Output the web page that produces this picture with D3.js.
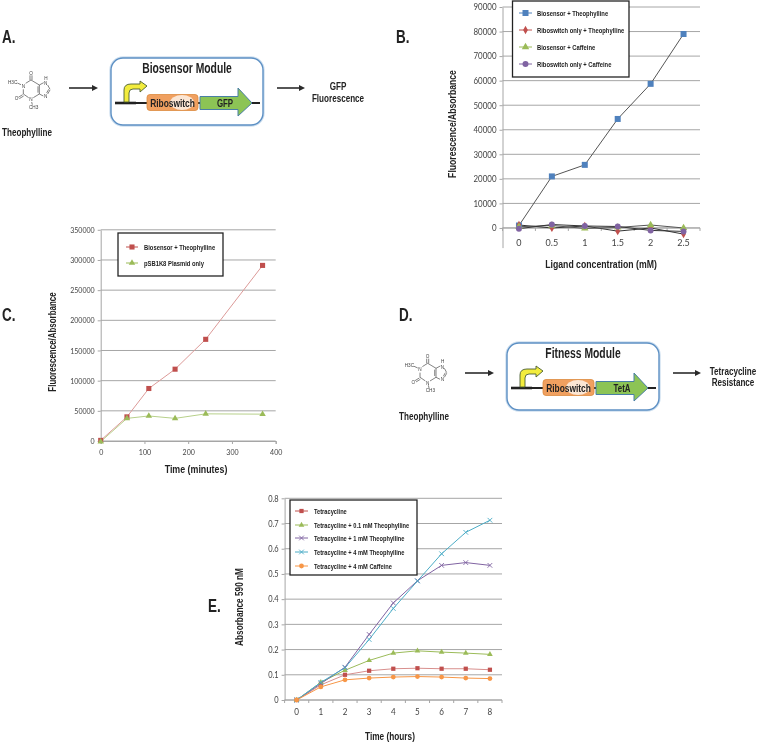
<!DOCTYPE html>
<html>
<head>
<meta charset="utf-8">
<script src="https://cdn.jsdelivr.net/npm/d3@7"></script>
<style>
html, body { margin: 0; padding: 0; background: #fff; }
svg { display: block; }
.narrow { font-family: "Liberation Sans", sans-serif; font-weight: bold; fill: #222; }
.tick text { font-family: Lato, "Open Sans", sans-serif; fill: #444; }
</style>
</head>
<body>
<div id="chart"></div>
<script>
// panel B
const ligand = ["0", "0.5", "1", "1.5", "2", "2.5"]
const bBiosensorTheo = [1000, 21000, 25700, 44400, 58700, 79000]
const bRiboTheo = [1200, 0, 800, -1300, 0, -2500]
const bBiosensorCaf = [500, 1000, -200, 200, 1200, 0]
const bRiboCaf = [-300, 1400, 800, 600, -1000, -1400]
const bTicks = [0, 10000, 20000, 30000, 40000, 50000, 60000, 70000, 80000, 90000]

// panel C
const minutes = [0, 60, 110, 170, 240, 370]
const cBiosensorTheo = [1000, 40000, 87000, 119000, 168500, 291000]
const cPlasmid = [-1000, 37500, 41500, 37500, 45000, 44500]
const cTicks = [0, 50000, 100000, 150000, 200000, 250000, 300000, 350000]
const cTimeTicks = [0, 100, 200, 300, 400]

// panel E
const hours = ["0", "1", "2", "3", "4", "5", "6", "7", "8"]
const eTet = [0, 0.06, 0.1, 0.116, 0.124, 0.126, 0.124, 0.124, 0.12]
const eTheo01 = [0, 0.07, 0.118, 0.157, 0.186, 0.195, 0.19, 0.186, 0.181]
const eTheo1 = [0, 0.065, 0.13, 0.26, 0.385, 0.473, 0.534, 0.545, 0.534]
const eTheo4 = [0, 0.07, 0.128, 0.24, 0.363, 0.472, 0.58, 0.665, 0.713]
const eCaf = [0, 0.052, 0.08, 0.087, 0.091, 0.093, 0.091, 0.087, 0.085]
const eTicks = [0, 0.1, 0.2, 0.3, 0.4, 0.5, 0.6, 0.7, 0.8]

const blue = "#4f81bd", red = "#c0504d", green = "#9bbb59", purple = "#8064a2", cyan = "#4bacc6", orange = "#f79646"

const root = d3.select("#chart").append("svg").attr("width", 759).attr("height", 744)
root.append("rect").attr("width", 759).attr("height", 744).attr("fill", "#fff")
// the source figure is a soft scan
root.append("filter").attr("id", "soft").append("feGaussianBlur").attr("stdDeviation", 0.3)
const svg = root.append("g").attr("filter", "url(#soft)")

// no condensed face is installed, so squeeze the glyphs
const squeeze = 0.75

function condense(sel, factor) {
    sel.each(function () {
        const len = this.getComputedTextLength()
        d3.select(this).attr("textLength", len * factor).attr("lengthAdjust", "spacingAndGlyphs")
    })
    return sel
}

function label(g, str, x, y, size, anchor) {
    return g.append("text").attr("class", "narrow")
        .attr("transform", `translate(${x},${y}) scale(${squeeze},1)`)
        .attr("font-size", size)
        .attr("text-anchor", anchor || "middle")
        .text(str)
}

function yLabel(g, str, x, y, size) {
    return g.append("text").attr("class", "narrow")
        .attr("transform", `translate(${x},${y}) rotate(-90) scale(${squeeze},1)`)
        .attr("font-size", size)
        .attr("text-anchor", "middle")
        .text(str)
}

function marker(g, s, x, y) {
    const path = d3.symbol().type(s.symbol).size(s.size)()
    g.append("path").attr("d", path)
        .attr("transform", `translate(${x},${y})`)
        .attr("fill", s.open ? "none" : s.color)
        .attr("stroke", s.open ? s.color : "none")
        .attr("stroke-width", s.open ? 0.9 : 0)
}

function drawSeries(g, series, x, xVals, y) {
    const line = d3.line().x((d, i) => x(xVals[i])).y(d => y(d))
    series.forEach(s => {
        g.append("path").attr("d", line(s.values))
            .attr("fill", "none")
            .attr("stroke", s.line || s.color)
            .attr("stroke-width", s.lineWidth || 1)
    })
    series.forEach(s => {
        s.values.forEach((v, i) => marker(g, s, x(xVals[i]), y(v)))
    })
}

function legend(g, series, box, ys, lineX, textX, size) {
    g.append("rect").attr("x", box[0]).attr("y", box[1])
        .attr("width", box[2] - box[0]).attr("height", box[3] - box[1])
        .attr("fill", "#fff").attr("stroke", "#222").attr("stroke-width", 1.3)
    series.forEach((s, i) => {
        g.append("line").attr("x1", lineX[0]).attr("x2", lineX[1])
            .attr("y1", ys[i]).attr("y2", ys[i])
            .attr("stroke", s.color).attr("stroke-width", 1)
        marker(g, s, (lineX[0] + lineX[1]) / 2, ys[i])
        label(g, s.name, textX, ys[i] + size * 0.35, size, "start")
    })
}

// horizontal grid and left axis shared by all three plots
function yFrame(g, y, ticks, left, right, fontSize, fmt) {
    g.append("g").selectAll("line").data(ticks).join("line")
        .attr("x1", left).attr("x2", right)
        .attr("y1", d => y(d)).attr("y2", d => y(d))
        .attr("stroke", "#a6a6a6").attr("stroke-width", 1)
    const axis = g.append("g").attr("transform", `translate(${left},0)`)
        .call(d3.axisLeft(y).tickValues(ticks).tickSizeInner(3).tickSizeOuter(0).tickPadding(3).tickFormat(fmt || (d => d)))
    condense(axis.selectAll("text").attr("font-size", fontSize), 0.88)
    axis.selectAll("path,line").attr("stroke", "#a6a6a6")
    return axis
}

// x axis made of category bands, ticks sit on the band edges
function bandAxis(g, x, y0, labelY, fontSize) {
    const edges = x.domain().map(d => x(d)).concat(x.range()[1])
    g.append("line").attr("x1", x.range()[0]).attr("x2", x.range()[1])
        .attr("y1", y0).attr("y2", y0).attr("stroke", "#a6a6a6")
    g.append("g").selectAll("line").data(edges).join("line")
        .attr("x1", d => d).attr("x2", d => d)
        .attr("y1", y0).attr("y2", y0 + 3).attr("stroke", "#a6a6a6")
    const t = g.append("g").attr("class", "tick").selectAll("text").data(x.domain()).join("text")
        .attr("x", d => x(d) + x.bandwidth() / 2).attr("y", labelY)
        .attr("text-anchor", "middle").attr("font-size", fontSize)
        .text(d => d)
    condense(t, 0.95)
}

function drawMolecule(g, dx, dy) {
    const m = g.append("g").attr("transform", `translate(${dx},${dy}) scale(0.3333)`)
    const bonds = [
        [93, 180, 118, 195], [118, 195, 118, 222], [118, 222, 100, 233], [86, 233, 70, 222],
        [70, 222, 70, 208], [77, 190, 93, 180], [90, 180, 90, 166], [96, 180, 96, 166],
        [68, 224, 55, 232], [71, 228, 58, 236], [95, 246, 97, 254], [118, 195, 131, 188],
        [143, 195, 150, 208], [150, 210, 143, 222], [130, 228, 118, 222], [114, 199, 114, 218],
        [63, 194, 52, 189], [146, 208, 140, 219]
    ]
    m.selectAll("line").data(bonds).join("line")
        .attr("x1", d => d[0]).attr("y1", d => d[1])
        .attr("x2", d => d[2]).attr("y2", d => d[3])
        .attr("stroke", "#444").attr("stroke-width", 2)
    const atoms = [["O", 93, 165], ["O", 50, 241], ["N", 70, 203], ["N", 93, 244], ["N", 137, 196], ["N", 137, 233],
        ["H", 138, 179], ["H3C", 38, 192], ["CH3", 101, 267]]
    m.selectAll("text").data(atoms).join("text")
        .attr("x", d => d[1]).attr("y", d => d[2])
        .attr("text-anchor", "middle")
        .attr("font-family", "Liberation Sans, sans-serif")
        .attr("font-size", 14).attr("fill", "#444")
        .text(d => d[0])
}

function arrow(g, x1, x2, y) {
    g.append("line").attr("x1", x1).attr("x2", x2 - 4).attr("y1", y).attr("y2", y)
        .attr("stroke", "#2a2a2a").attr("stroke-width", 1.6)
    g.append("path").attr("d", `M${x2 - 6},${y - 3}L${x2},${y}L${x2 - 6},${y + 3}Z`).attr("fill", "#2a2a2a")
}

function drawModule(g, title, gene, geneX) {
    g.append("rect").attr("x", 111).attr("y", 58).attr("width", 152).attr("height", 67).attr("rx", 12)
        .attr("fill", "#fff").attr("stroke", "#cfe0f0").attr("stroke-width", 3.4)
    g.append("rect").attr("x", 111).attr("y", 58).attr("width", 152).attr("height", 67).attr("rx", 12)
        .attr("fill", "#fff").attr("stroke", "#5d90c4").attr("stroke-width", 1.4)
    label(g, title, 187, 73, 13.8)
    g.append("line").attr("x1", 115).attr("x2", 260).attr("y1", 103).attr("y2", 103)
        .attr("stroke", "#222").attr("stroke-width", 1.8)
    g.append("line").attr("x1", 115).attr("x2", 136).attr("y1", 103).attr("y2", 103)
        .attr("stroke", "#222").attr("stroke-width", 2.6)
    g.append("path")
        .attr("d", "M124,102L124,90Q124,84 131,84L140,84L140,81L147,86L140,92L140,89L133,89Q129,89 129,93L129,102Z")
        .attr("fill", "#f2ec3c").attr("stroke", "#4a5f32").attr("stroke-width", 0.9)
    g.append("rect").attr("x", 147).attr("y", 94.5).attr("width", 51).attr("height", 16).attr("rx", 3)
        .attr("fill", "#f0a060").attr("stroke", "#dc8a3c").attr("stroke-width", 0.8)
    g.append("ellipse").attr("cx", 182).attr("cy", 102.5).attr("rx", 12).attr("ry", 7.5).attr("fill", "#fbe6d4")
    label(g, "Riboswitch", 172.5, 106.5, 11.2)
    g.append("path").attr("d", "M200,96.5L238,96.5L238,88L252,103L238,116L238,109.5L200,109.5Z")
        .attr("fill", "#8cc455").attr("stroke", "#4a7fa5").attr("stroke-width", 1)
    label(g, gene, geneX, 107, 10.5)
    arrow(g, 69, 98, 88)
    arrow(g, 277, 305, 88)
}

function drawPanelA() {
    const g = svg.append("g")
    label(g, "A.", 2, 43, 18, "start")
    drawMolecule(g, 0, 20)
    label(g, "Theophylline", 27, 136, 10.8)
    drawModule(g, "Biosensor Module", "GFP", 225)
    label(g, "GFP", 338, 90, 10.8)
    label(g, "Fluorescence", 338, 102, 10.8)
}

function drawPanelD() {
    const g = svg.append("g")
    label(g, "D.", 399, 321, 18, "start")
    drawMolecule(g, 396.7, 303.3)
    label(g, "Theophylline", 424, 420, 10.8)
    const m = g.append("g").attr("transform", "translate(396,285)")
    drawModule(m, "Fitness Module", "TetA", 226)
    label(g, "Tetracycline", 733, 375, 10.8)
    label(g, "Resistance", 733, 386, 10.8)
}

function drawPanelB() {
    const g = svg.append("g")
    label(g, "B.", 396, 43, 18, "start")
    const x = d3.scaleBand().domain(ligand).range([502.5, 700])
    const y = d3.scaleLinear().domain([-8000, 90000]).range([247.6, 7])
    yFrame(g, y, bTicks, 502.5, 700, 9)
    bandAxis(g, x, y(0), 246, 9.5)
    const cx = d => x(d) + x.bandwidth() / 2
    const series = [
        { name: "Biosensor + Theophylline", values: bBiosensorTheo, color: blue, line: "#555", symbol: d3.symbolSquare, size: 36 },
        { name: "Riboswitch only + Theophylline", values: bRiboTheo, color: red, line: "#333", symbol: d3.symbolDiamond, size: 20 },
        { name: "Biosensor + Caffeine", values: bBiosensorCaf, color: green, line: "#555", symbol: d3.symbolTriangle, size: 24 },
        { name: "Riboswitch only + Caffeine", values: bRiboCaf, color: purple, line: "#333", symbol: d3.symbolCircle, size: 28 }
    ]
    drawSeries(g, series, cx, ligand, y)
    legend(g, series, [512.5, 1, 629, 77], [13, 30, 47, 64], [519, 532], 537, 7.8)
    yLabel(g, "Fluorescence/Absorbance", 456, 124, 11.5)
    label(g, "Ligand concentration (mM)", 601, 268, 11.6)
}

function drawPanelC() {
    const g = svg.append("g")
    label(g, "C.", 2, 321, 18, "start")
    const x = d3.scaleLinear().domain([0, 400]).range([100.7, 275.7])
    const y = d3.scaleLinear().domain([0, 350000]).range([441, 229.8])
    yFrame(g, y, cTicks, 100.7, 275.7, 8)
    const xAxis = g.append("g").attr("transform", "translate(0,441)")
        .call(d3.axisBottom(x).tickValues(cTimeTicks).tickSize(3).tickPadding(5).tickFormat(d => d))
    condense(xAxis.selectAll("text").attr("font-size", 8), 0.88)
    xAxis.selectAll("path,line").attr("stroke", "#a6a6a6")
    const series = [
        { name: "Biosensor + Theophylline", values: cBiosensorTheo, color: red, line: "#dc9a98", symbol: d3.symbolSquare, size: 26 },
        { name: "pSB1K8 Plasmid only", values: cPlasmid, color: green, line: "#b7d08a", symbol: d3.symbolTriangle, size: 18 }
    ]
    drawSeries(g, series, x, minutes, y)
    legend(g, series, [118, 233, 223, 276], [247, 263], [126, 138], 144, 7.8)
    yLabel(g, "Fluorescence/Absorbance", 56, 342, 10.6)
    label(g, "Time (minutes)", 196, 473, 11.8)
}

function drawPanelE() {
    const g = svg.append("g")
    label(g, "E.", 208, 612, 18, "start")
    const x = d3.scaleBand().domain(hours).range([284.6, 502])
    const y = d3.scaleLinear().domain([0, 0.8]).range([700, 498.3])
    yFrame(g, y, eTicks, 284.6, 502, 8.5, d => d)
    bandAxis(g, x, 700, 715, 8.5)
    const cx = d => x(d) + x.bandwidth() / 2
    const series = [
        { name: "Tetracycline", values: eTet, color: red, line: "#d88f8d", symbol: d3.symbolSquare, size: 18 },
        { name: "Tetracycline + 0.1 mM Theophylline", values: eTheo01, color: green, symbol: d3.symbolTriangle, size: 14 },
        { name: "Tetracycline + 1 mM Theophylline", values: eTheo1, color: purple, symbol: d3.symbolX, size: 16, open: true },
        { name: "Tetracycline + 4 mM Theophylline", values: eTheo4, color: cyan, symbol: d3.symbolX, size: 16, open: true },
        { name: "Tetracycline + 4 mM Caffeine", values: eCaf, color: orange, symbol: d3.symbolCircle, size: 18 }
    ]
    drawSeries(g, series, cx, hours, y)
    legend(g, series, [290, 500, 417, 575], [511, 525, 538, 552, 566], [295, 308], 314, 7.6)
    yLabel(g, "Absorbance 590 nM", 243, 607, 11)
    label(g, "Time (hours)", 390, 740, 11)
}

drawPanelA()
drawPanelB()
drawPanelC()
drawPanelD()
drawPanelE()
</script>
</body>
</html>
